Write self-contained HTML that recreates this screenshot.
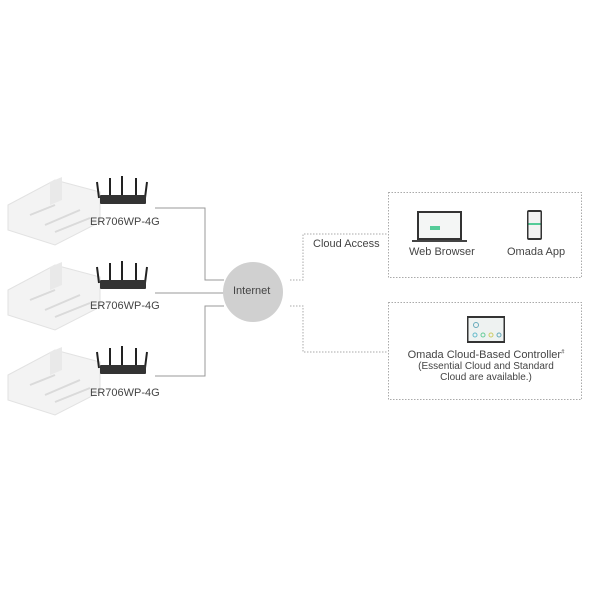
<!DOCTYPE html>
<html><head><style>
body{margin:0;width:600px;height:600px;background:#fff;position:relative;overflow:hidden;font-family:"Liberation Sans",sans-serif;color:#444}
.t{position:absolute;font-size:11px;white-space:nowrap}
</style></head><body>
<svg width="600" height="600" style="position:absolute;left:0;top:0">
<g stroke="#999" fill="none" stroke-width="1">
<polyline points="155,208 205,208 205,280 224,280"/>
<line x1="155" y1="293" x2="224" y2="293"/>
<polyline points="155,376 205,376 205,306 224,306"/>
</g>
<g stroke="#aaa" fill="none" stroke-width="1" stroke-dasharray="1.5,1.5">
<polyline points="290,280 303,280 303,234 388,234"/>
<polyline points="290,306 303,306 303,352 388,352"/>
<rect x="388.5" y="192.5" width="193" height="85"/>
<rect x="388.5" y="302.5" width="193" height="97"/>
</g>
<circle cx="253" cy="292" r="30" fill="#d0d0d0"/>
<g id="b">
<polygon points="8,205 55,180 100,192 100,222 55,245 8,230" fill="#f3f3f3" stroke="#e2e2e2"/>
<polygon points="50,182 62,177 62,200 50,205" fill="#e9e9e9"/>
<g stroke="#dadada" stroke-width="2"><line x1="30" y1="215" x2="55" y2="205"/><line x1="45" y1="225" x2="80" y2="210"/><line x1="55" y1="232" x2="90" y2="218"/></g>
<g stroke="#222" stroke-width="2"><line x1="97" y1="182" x2="99" y2="198"/><line x1="110" y1="178" x2="110" y2="196"/><line x1="122" y1="176" x2="122" y2="196"/><line x1="136" y1="178" x2="136" y2="196"/><line x1="147" y1="182" x2="145" y2="198"/></g>
<rect x="100" y="195" width="46" height="9" rx="1" fill="#333"/>
</g>
<use href="#b" y="85"/>
<use href="#b" y="170"/>
<rect x="417" y="211" width="45" height="29" fill="#333"/>
<rect x="419" y="213" width="41" height="25" fill="#f4f6f5"/>
<rect x="430" y="226" width="10" height="4" fill="#5c9"/>
<rect x="412" y="240" width="55" height="2" fill="#444"/>
<rect x="527" y="210" width="15" height="30" rx="2" fill="#333"/>
<rect x="528.5" y="212" width="12" height="26" fill="#f3f3f3"/>
<rect x="528.5" y="223" width="12" height="2" fill="#5c9"/>
<rect x="467" y="316" width="38" height="27" fill="#333"/>
<rect x="468.5" y="318" width="35" height="23" fill="#eef2f1"/>
<circle cx="476" cy="325" r="2.5" fill="none" stroke="#6ab"/>
<circle cx="475" cy="335" r="2" fill="none" stroke="#6bc"/><circle cx="483" cy="335" r="2" fill="none" stroke="#6c9"/><circle cx="491" cy="335" r="2" fill="none" stroke="#cc6"/><circle cx="499" cy="335" r="2" fill="none" stroke="#6ab"/>
</svg>
<div class="t" style="left:90px;top:216px">ER706WP-4G</div>
<div class="t" style="left:90px;top:300px">ER706WP-4G</div>
<div class="t" style="left:90px;top:387px">ER706WP-4G</div>
<div class="t" style="left:233px;top:285px">Internet</div>
<div class="t" style="left:313px;top:238px">Cloud Access</div>
<div class="t" style="left:409px;top:246px">Web Browser</div>
<div class="t" style="left:507px;top:246px">Omada App</div>
<div class="t" style="left:406px;top:349px;width:160px;text-align:center">Omada Cloud-Based Controller<sup style="font-size:6px">#</sup></div>
<div class="t" style="left:406px;top:361px;width:160px;text-align:center;font-size:10px;line-height:11px;white-space:normal">(Essential Cloud and Standard Cloud are available.)</div>
</body></html>
